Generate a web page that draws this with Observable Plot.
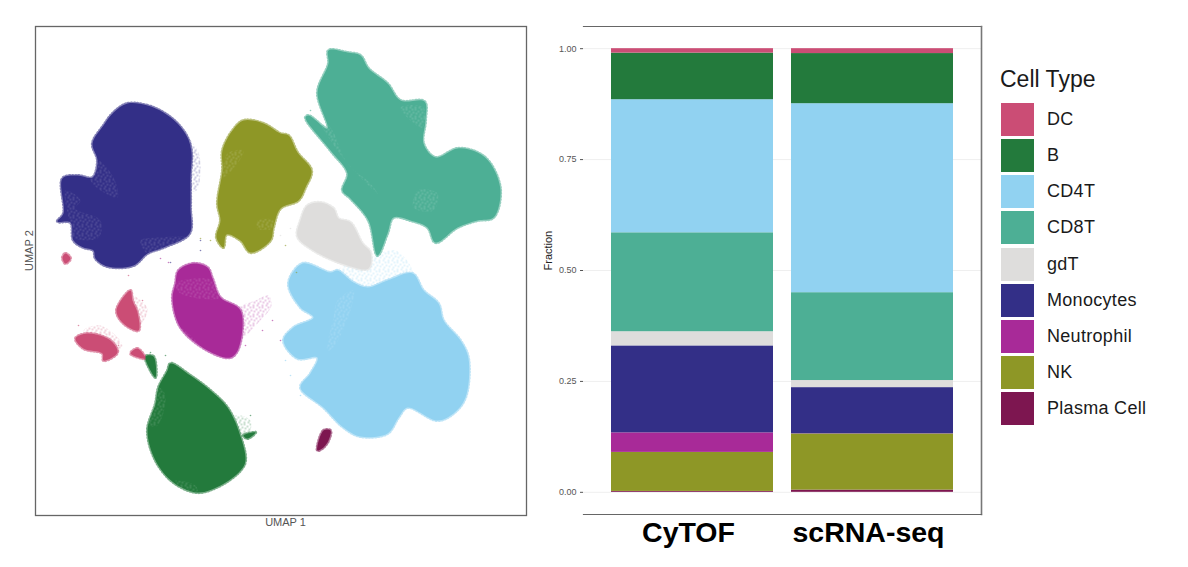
<!DOCTYPE html>
<html><head><meta charset="utf-8">
<script src="https://cdn.jsdelivr.net/npm/d3@7"></script>
<script src="https://cdn.jsdelivr.net/npm/@observablehq/plot@0.6"></script>
<style>
html,body{margin:0;padding:0;background:#fff;width:1188px;height:567px;overflow:hidden;font-family:"Liberation Sans",Arial,sans-serif}
#umap,#bars{position:absolute;top:0}
#umap{left:0}#bars{left:535px}
#legend{position:absolute;left:1000px;top:66px;color:#1a1a1a}
#legend .t{font-size:23px;line-height:26px;margin-bottom:9.5px}
#legend .r{display:flex;align-items:center;height:36.15px}
#legend .s{width:33px;height:33px;margin:0 13px 0 1px}
#legend .l{font-size:18px;letter-spacing:.3px}
.soft{filter:blur(.4px)}
</style></head><body>
<div id="umap"></div><div id="bars"></div><div id="legend"></div>
<script>
const cellTypes=["DC","B","CD4T","CD8T","gdT","Monocytes","Neutrophil","NK","Plasma Cell"];
const typeColors=["#CB4D75","#237A3C","#91D2F1","#4DAF95","#DEDDDC","#332F87","#A82A98","#8E9726","#7D1650"];
const platforms=["CyTOF","scRNA-seq"];
const cytofFractions=[.010,.105,.300,.223,.032,.196,.044,.088,.002];
const scrnaFractions=[.011,.113,.426,.198,.016,.104,.0005,.1265,.005];
const fractionTicks=[0,.25,.5,.75,1];

// cluster outlines (UMAP 1, UMAP 2 in picture units)
const monocytes=[[127,103],[147,105],[163,112],[177,123],[187,137],[191,152],[190,177],[190,207],[189,233],[163,247],[147,253],[133,265],[107,266],[95,258],[93,250],[83,247],[73,240],[70,222],[57,221],[63,213],[62,178],[77,175],[92,177],[97,160],[92,143],[103,125],[113,112]];
const nk=[[243,120],[263,123],[280,133],[288,135],[297,152],[311,170],[305,187],[298,200],[280,208],[273,227],[270,240],[250,252],[240,240],[226,234],[223,247],[216,237],[220,220],[217,203],[222,170],[222,150],[232,130]];
const cd8=[[328,50],[347,52],[360,55],[368,68],[387,83],[400,100],[424,101],[425,120],[423,143],[435,157],[457,148],[477,152],[490,163],[500,190],[493,217],[477,220],[457,227],[435,242],[427,227],[410,220],[393,217],[387,233],[377,255],[368,220],[350,198],[342,190],[347,173],[330,150],[305,117],[308,115],[327,128],[317,92],[328,63]];
const gdt=[[320,202],[333,208],[338,218],[350,222],[362,243],[370,252],[368,268],[347,265],[313,250],[297,236],[300,220],[307,205]];
const cd4=[[302,263],[330,272],[337,270],[353,282],[367,287],[387,280],[412,273],[423,290],[438,303],[443,320],[460,340],[468,358],[465,397],[453,413],[437,420],[407,407],[398,417],[387,433],[360,436],[343,427],[323,407],[300,387],[310,373],[317,357],[297,358],[283,340],[293,327],[313,317],[300,307],[288,283]];
const plasma=[[317,450],[323,430],[330,430],[328,440],[323,447]];
const bMain=[[170,363],[190,375],[210,390],[227,407],[238,430],[245,460],[240,470],[220,485],[197,492],[173,482],[155,460],[147,430],[155,403],[158,387],[167,370]];
const bTail=[[145,356],[153,356],[155,377],[150,370]];
const bSide=[[243,435],[255,432],[247,438]];
const dcA=[[116,310],[130,290],[132,300],[137,312],[138,330],[123,323]];
const dcB=[[75,338],[87,333],[110,340],[117,352],[103,360],[102,353],[83,348]];
const dcC=[[130,353],[137,348],[145,358]];
const dcD=[[62,257],[65,253],[70,258],[65,263]];
const neutrophil=[[178,270],[193,263],[207,267],[212,278],[220,297],[240,310],[238,348],[230,357],[207,350],[180,327],[172,298],[175,283]];
const solidShapes=[["Monocytes",monocytes],["NK",nk],["CD8T",cd8],["gdT",gdt],["CD4T",cd4],["Plasma Cell",plasma],["B",bMain],["B",bTail],["B",bSide],["DC",dcA],["DC",dcB],["DC",dcC],["DC",dcD],["Neutrophil",neutrophil]];

// thinly populated regions around the clusters
const paleNeutrophil=[[238,308],[255,300],[268,295],[271,305],[258,322],[240,338]];
const paleCd4=[[337,270],[360,262],[395,250],[412,273],[387,280],[367,287],[345,300]];
const paleDcA=[[130,295],[147,308],[138,326],[130,318]];
const paleDcB=[[83,330],[100,325],[122,345],[110,355],[90,345]];
const paleMono=[[187,137],[198,152],[200,170],[196,190],[189,190],[189,150]];
const paleB=[[235,415],[250,420],[248,435],[240,440]];
const paleShapes=[["Neutrophil",paleNeutrophil],["CD4T",paleCd4],["DC",paleDcA],["DC",paleDcB],["Monocytes",paleMono],["B",paleB]];

// speckled holes inside the clusters
const holes=[
[[65,190],[80,200],[75,208],[100,220],[98,237],[73,237],[68,217]],
[[97,160],[113,177],[117,197],[90,180]],
[[140,240],[157,237],[187,237],[163,247],[147,253]],
[[227,153],[243,150],[237,163],[223,177]],
[[257,220],[273,220],[272,228],[257,228]],
[[317,117],[330,127],[347,163],[370,183],[377,193],[360,177],[337,150]],
[[400,107],[423,107],[422,127],[410,120]],
[[417,190],[437,193],[433,210],[413,207]],
[[337,300],[353,290],[350,310],[333,347],[327,350],[333,317]],
[[175,283],[213,280],[220,297],[180,293]],
[[158,387],[165,395],[157,425],[148,425]],
[[175,480],[195,485],[197,491],[180,487]],
[[180,327],[200,345],[205,352],[190,345]]
];

const strayType=["Neutrophil","Neutrophil","Neutrophil","Neutrophil","Neutrophil","Neutrophil","NK","NK","NK","NK","B","B","B","DC","DC","DC","DC","CD8T","CD8T","CD4T","CD4T","CD4T","Monocytes","Monocytes","Monocytes","gdT","gdT"];
const strayX=[245,262,272,280,168,160,210,200,296,285,165,150,250,142,128,78,118,310,440,290,300,285,200,170,200,290,280];
const strayY=[345,330,320,340,262,258,240,238,272,245,355,352,415,300,275,325,345,110,240,375,395,360,240,262,250,228,235];

const rowsOf=list=>list.flatMap(([type,pts],i)=>pts.map(([x,y])=>({x,y,type,ring:type+i})));
const holeRows=holes.flatMap((pts,i)=>pts.map(([x,y])=>({x,y,ring:i})));
const strayRows=strayX.map((x,i)=>({x,y:strayY[i],type:strayType[i]}));
const color={domain:cellTypes,range:typeColors};
const patternId=t=>"pale"+cellTypes.indexOf(t);
const font={fontFamily:"Liberation Sans"};

const umap=Plot.plot({width:535,height:567,marginLeft:35,marginRight:9,marginTop:26,marginBottom:52,style:font,
  x:{domain:[35,526],label:null,axis:null},y:{domain:[515,26],label:null,axis:null},color,
  marks:[
    Plot.line(rowsOf(paleShapes),{x:"x",y:"y",z:"ring",fill:{value:d=>`url(#${patternId(d.type)})`,scale:null},stroke:"none",curve:"catmull-rom-closed"}),
    Plot.line(rowsOf(solidShapes),{x:"x",y:"y",z:"ring",fill:"none",stroke:"type",strokeWidth:3.2,strokeOpacity:.6,strokeDasharray:"0.7 2.4",curve:"catmull-rom-closed"}),
    Plot.line(rowsOf(solidShapes),{x:"x",y:"y",z:"ring",fill:"type",stroke:"none",curve:"catmull-rom-closed",className:"soft"}),
    Plot.line(holeRows,{x:"x",y:"y",z:"ring",fill:"url(#speck)",stroke:"none",curve:"catmull-rom-closed"}),
    Plot.dot(strayRows,{x:"x",y:"y",r:.8,fill:"type",fillOpacity:.6}),
    Plot.frame({stroke:"#666",strokeWidth:1.3}),
    Plot.text(["UMAP 1"],{frameAnchor:"bottom",dy:7,fontSize:11,fill:"#555",text:d=>d,x:285,y:null,lineAnchor:"middle"}),
    Plot.text(["UMAP 2"],{frameAnchor:"left",dx:-6,rotate:-90,fontSize:11,fill:"#555",text:d=>d})
  ]});
const defs=d3.select(umap).insert("defs",":first-child");
const specks=[[1,1],[4,3],[2,5],[6,6],[7,1],[5,8],[1,8],[8,4]];
const speck=defs.append("pattern").attr("id","speck").attr("width",9).attr("height",9).attr("patternUnits","userSpaceOnUse");
specks.forEach(([a,b])=>speck.append("circle").attr("cx",a).attr("cy",b).attr("r",.55).attr("fill","#fff").attr("fill-opacity",.5));
cellTypes.forEach((t,i)=>{const p=defs.append("pattern").attr("id","pale"+i).attr("width",9).attr("height",9).attr("patternUnits","userSpaceOnUse");
  specks.forEach(([a,b])=>p.append("circle").attr("cx",a).attr("cy",b).attr("r",.75).attr("fill",typeColors[i]).attr("fill-opacity",.6));});
document.getElementById("umap").append(umap);

const stackRows=platforms.flatMap((p,k)=>{const vals=k?scrnaFractions:cytofFractions;
  return cellTypes.map((t,i)=>({platform:p,type:t,fraction:vals[i]})).reverse();});

const bars=Plot.plot({width:455,height:567,marginLeft:48,marginRight:9,marginTop:26,marginBottom:53,style:font,
  x:{domain:platforms,paddingInner:.1,paddingOuter:.15,label:null},
  y:{domain:[-.05,1.05],label:null},color,
  marks:[
    Plot.ruleY(fractionTicks,{stroke:"#efefef",strokeWidth:1}),
    Plot.barY(stackRows,{x:"platform",y:"fraction",fill:"type"}),
    Plot.frame({anchor:"top",stroke:"#666",strokeWidth:1.2}),
    Plot.frame({anchor:"right",stroke:"#777",strokeWidth:1.6}),
    Plot.frame({anchor:"bottom",stroke:"#666",strokeWidth:1.2}),
    Plot.axisY({ticks:fractionTicks,tickFormat:d3.format(".2f"),tickSize:3,tickPadding:4,fontSize:9,stroke:"#555",color:"#555",label:null}),
    Plot.axisX({tickSize:0,fontSize:28.5,fontWeight:"bold",fill:"#000",tickPadding:7,dx:-4,label:null}),
    Plot.text(["Fraction"],{frameAnchor:"left",dx:-35,rotate:-90,fontSize:11,fill:"#222",text:d=>d})
  ]});
document.getElementById("bars").append(bars);

const lg=d3.select("#legend");
lg.append("div").attr("class","t").text("Cell Type");
cellTypes.forEach((t,i)=>{const r=lg.append("div").attr("class","r");
  r.append("div").attr("class","s").style("background",typeColors[i]);
  r.append("div").attr("class","l").text(t);});
</script></body></html>
